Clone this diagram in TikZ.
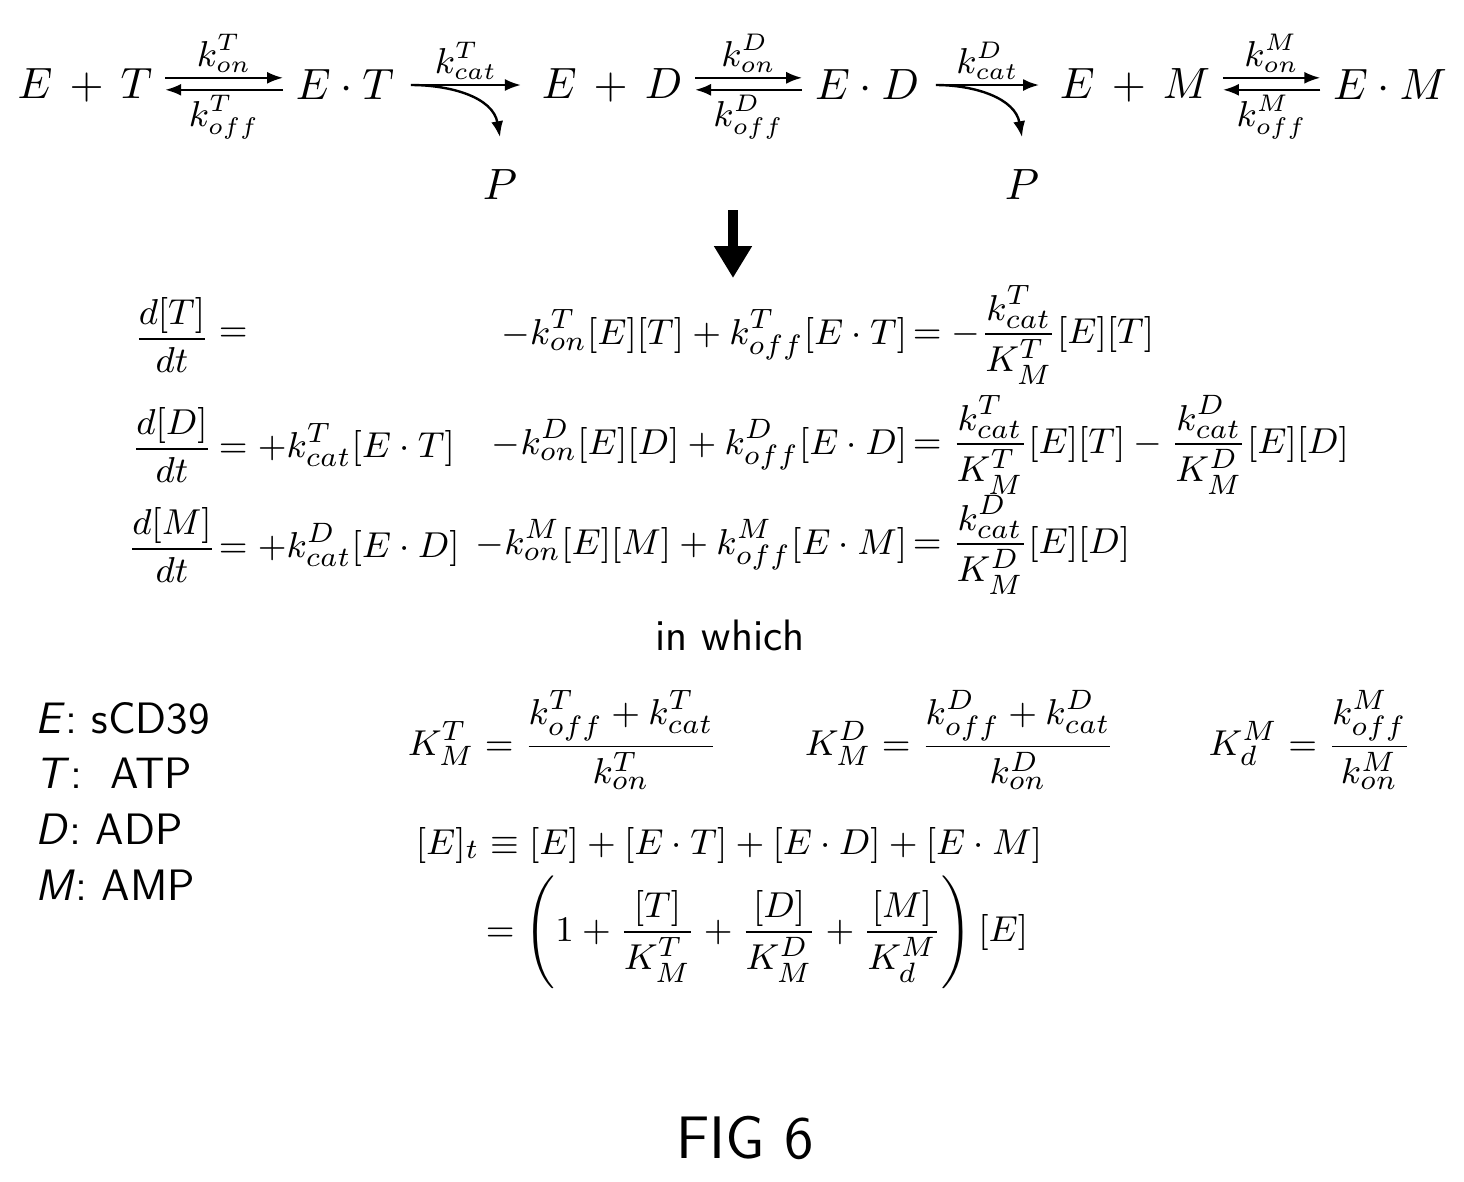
\documentclass[tikz,border=0pt]{standalone}
\usepackage{amsmath}
\usepackage{amssymb}
\usetikzlibrary{arrows.meta}
\tikzset{eq/.style = {inner sep=0, font=\fontsize{9.4}{11}\selectfont}}
\tikzset{top/.style = {inner sep=0, font=\fontsize{11}{13}\selectfont}}
\tikzset{lbl/.style = {inner sep=1pt, font=\fontsize{9}{10}\selectfont}}
\tikzset{txt/.style = {inner sep=0, font=\fontsize{11}{13}\selectfont\sffamily}}
\tikzset{rxn/.style = {-{Latex[length=4pt,width=3pt]}, line width=0.6pt}}
\begin{document}
\begin{tikzpicture}[x=0.25pt, y=-0.25pt]
    \useasboundingbox (0, 0) rectangle (1464, 1181);

    % reaction scheme
    \node [top] (et0) at (85, 85) {$E\,+\,T$};
    \node [top] (et) at (345, 85) {$E\cdot T$};
    \node [top] (ed0) at (612, 85) {$E\,+\,D$};
    \node [top] (ed) at (867, 85) {$E\cdot D$};
    \node [top] (em0) at (1135, 85) {$E\,+\,M$};
    \node [top] (em) at (1390, 85) {$E\cdot M$};
    \node [top] (p1) at (500, 185) {$P$};
    \node [top] (p2) at (1022, 185) {$P$};

    \foreach \a/\b/\s in {et0/et/T, ed0/ed/D, em0/em/M} {
      \draw [rxn] ([xshift=3pt, yshift=1.8pt]\a.east) -- ([xshift=-3pt, yshift=1.8pt]\b.west)
        node [lbl, midway, above] {$k_{on}^{\s}$};
      \draw [rxn] ([xshift=-3pt, yshift=-1.2pt]\b.west) -- ([xshift=3pt, yshift=-1.2pt]\a.east)
        node [lbl, midway, below] {$k_{off}^{\s}$};
    }

    \foreach \a/\b/\p/\s in {et/ed0/p1/T, ed/em0/p2/D} {
      \draw [rxn] ([xshift=4pt]\a.east) coordinate (\a-c) -- ([xshift=-5pt]\b.west)
        node [lbl, midway, above] {$k_{cat}^{\s}$};
      \draw [rxn] (\a-c) to [out=0, in=100] ([yshift=8]\p.north);
    }

    \draw [-{Triangle[length=8pt,width=9pt]}, line width=2.5pt] (733, 210) -- (733, 278);

    % rate equations
    \node [eq] (l1) at (172, 335) {$\dfrac{d[T]}{dt}$};
    \node [eq] (l2) at (172, 445) {$\dfrac{d[D]}{dt}$};
    \node [eq] (l3) at (172, 545) {$\dfrac{d[M]}{dt}$};
    \node [eq, anchor=west] (a1) at (218, 335) {$=$};
    \node [eq, anchor=west] (a2) at (218, 445) {$=+k_{cat}^{T}[E\cdot T]$};
    \node [eq, anchor=west] (a3) at (218, 545) {$=+k_{cat}^{D}[E\cdot D]$};
    \node [eq, anchor=east] (b1) at (908, 335) {$-k_{on}^{T}[E][T]+k_{off}^{T}[E\cdot T]$};
    \node [eq, anchor=east] (b2) at (908, 445) {$-k_{on}^{D}[E][D]+k_{off}^{D}[E\cdot D]$};
    \node [eq, anchor=east] (b3) at (908, 545) {$-k_{on}^{M}[E][M]+k_{off}^{M}[E\cdot M]$};
    \node [eq, anchor=west] (c1) at (912, 335) {$=-\dfrac{k_{cat}^{T}}{K_M^{T}}[E][T]$};
    \node [eq, anchor=west] (c2) at (912, 445) {$=\dfrac{k_{cat}^{T}}{K_M^{T}}[E][T]-\dfrac{k_{cat}^{D}}{K_M^{D}}[E][D]$};
    \node [eq, anchor=west] (c3) at (912, 545) {$=\dfrac{k_{cat}^{D}}{K_M^{D}}[E][D]$};

    \node [txt] (which) at (730, 635) {in which};

    % legend
    \node [txt, anchor=west] (le) at (35, 718) {\textit{E}: sCD39};
    \node [txt, anchor=west] (lt) at (35, 773) {\textit{T}:\ \ ATP};
    \node [txt, anchor=west] (ld) at (35, 829) {\textit{D}: ADP};
    \node [txt, anchor=west] (lm) at (35, 885) {\textit{M}: AMP};

    % constants
    \node [eq] (kt) at (563, 740) {$K_M^{T}=\dfrac{k_{off}^{T}+k_{cat}^{T}}{k_{on}^{T}}$};
    \node [eq] (kd) at (960, 740) {$K_M^{D}=\dfrac{k_{off}^{D}+k_{cat}^{D}}{k_{on}^{D}}$};
    \node [eq] (km) at (1310, 740) {$K_d^{M}=\dfrac{k_{off}^{M}}{k_{on}^{M}}$};
    \node [eq, anchor=west] (et1) at (415, 845) {$[E]_t\equiv[E]+[E\cdot T]+[E\cdot D]+[E\cdot M]$};
    \node [eq, anchor=west] (et2) at (485, 932) {$=\left(1+\dfrac{[T]}{K_M^{T}}+\dfrac{[D]}{K_M^{D}}+\dfrac{[M]}{K_d^{M}}\right)[E]$};

    \node [txt, font=\fontsize{15}{18}\selectfont\sffamily] (fig) at (745, 1138) {FIG 6};
  \end{tikzpicture}
\end{document}
